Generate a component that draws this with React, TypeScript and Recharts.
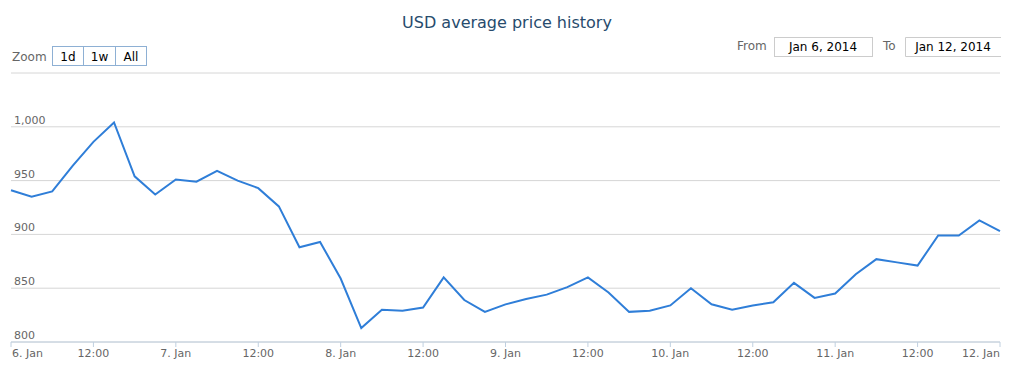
import React from "react";
import { LineChart, Line, XAxis, YAxis, CartesianGrid } from "recharts";

const hours = [0, 3, 6, 9, 12, 15, 18, 21, 24, 27, 30, 33, 36, 39, 42, 45, 48, 51, 54, 57, 60, 63, 66, 69, 72, 75, 78, 81, 84, 87, 90, 93, 96, 99, 102, 105, 108, 111, 114, 117, 120, 123, 126, 129, 132, 135, 138, 141, 144];
const usdPrice = [941, 935, 940, 964, 986, 1004, 954, 937, 951, 949, 959, 950, 943, 926, 888, 893, 859, 813, 830, 829, 832, 860, 839, 828, 835, 840, 844, 851, 860, 846, 828, 829, 834, 850, 835, 830, 834, 837, 855, 841, 845, 863, 877, 874, 871, 899, 899, 913, 903];
const xTickHours = [0, 12, 24, 36, 48, 60, 72, 84, 96, 108, 120, 132, 144];
const xTickLabels = ["6. Jan", "12:00", "7. Jan", "12:00", "8. Jan", "12:00", "9. Jan", "12:00", "10. Jan", "12:00", "11. Jan", "12:00", "12. Jan"];
const yTicks = [800, 850, 900, 950, 1000, 1050];
const zoomButtons = ["1d", "1w", "All"];
const fromDate = "Jan 6, 2014";
const toDate = "Jan 12, 2014";
const title = "USD average price history";

const data = hours.map((h, i) => ({ h, v: usdPrice[i] }));
const FONT = "'DejaVu Sans', sans-serif";

const XTick = (props: any) => {
  const { x, y, payload } = props;
  const idx = xTickHours.indexOf(payload.value);
  const label = xTickLabels[idx] ?? "";
  let anchor: "start" | "middle" | "end" = "middle";
  let dx = 0;
  if (idx === 0) { anchor = "start"; dx = 1; }
  if (idx === xTickHours.length - 1) { anchor = "end"; dx = 0; }
  return (
    <text x={x + dx} y={y + 10} textAnchor={anchor} fontSize={11} fill="#666" fontFamily={FONT}>
      {label}
    </text>
  );
};

const YTick = (props: any) => {
  const { y, payload } = props;
  if (payload.value === 1050) return <g />;
  return (
    <text x={14} y={y - 3} textAnchor="start" fontSize={11} fill="#666" fontFamily={FONT}>
      {payload.value.toLocaleString("en-US")}
    </text>
  );
};

export default function App() {
  const btnX = [52, 83, 115, 146];
  return (
    <div style={{ position: "absolute", left: 0, top: 0, width: 1024, height: 374, fontFamily: FONT, background: "#fff" }}>
      <LineChart width={1024} height={374} data={data} margin={{ top: 73, right: 24, bottom: 0, left: 11 }}>
        <CartesianGrid vertical={false} stroke="#d6d6d6" strokeWidth={1} />
        <XAxis
          dataKey="h"
          type="number"
          domain={[0, 144]}
          ticks={xTickHours}
          interval={0}
          height={32}
          axisLine={{ stroke: "#C0D0E0" }}
          tickLine={{ stroke: "#C0D0E0" }}
          tickSize={5}
          tickMargin={0}
          tick={<XTick />}
        />
        <YAxis
          type="number"
          domain={[800, 1050]}
          ticks={yTicks}
          interval={0}
          width={40}
          mirror
          axisLine={false}
          tickLine={false}
          tick={<YTick />}
        />
        <Line type="linear" dataKey="v" stroke="#2f7ed8" strokeWidth={2} dot={false} isAnimationActive={false} />
      </LineChart>
      <svg width={1024} height={374} style={{ position: "absolute", left: 0, top: 0, pointerEvents: "none" }}>
        <text x={507} y={28} textAnchor="middle" fontSize={16} fill="#274b6d" fontFamily={FONT}>{title}</text>
        <text x={12} y={61} fontSize={12} fill="#666" fontFamily={FONT}>Zoom</text>
        {zoomButtons.map((b, i) => (
          <g key={b}>
            <rect x={btnX[i] + 0.5} y={46.5} width={btnX[i + 1] - btnX[i]} height={19} fill="#fff" stroke="#8eb0d4" strokeWidth={1} />
            <text x={(btnX[i] + btnX[i + 1]) / 2 + 0.5} y={61} textAnchor="middle" fontSize={12} fill="#000" fontFamily={FONT}>{b}</text>
          </g>
        ))}
        <text x={737} y={50} fontSize={12} fill="#666" fontFamily={FONT}>From</text>
        <rect x={774.5} y={37.5} width={98} height={19} fill="#fff" stroke="#ccc" />
        <text x={823} y={51} textAnchor="middle" fontSize={12} fill="#000" fontFamily={FONT}>{fromDate}</text>
        <text x={883} y={50} fontSize={12} fill="#666" fontFamily={FONT}>To</text>
        <path d="M1001,37.5 H905.5 V56.5 H1001" fill="#fff" stroke="#ccc" />
        <text x={953} y={51} textAnchor="middle" fontSize={12} fill="#000" fontFamily={FONT}>{toDate}</text>
      </svg>
    </div>
  );
}
